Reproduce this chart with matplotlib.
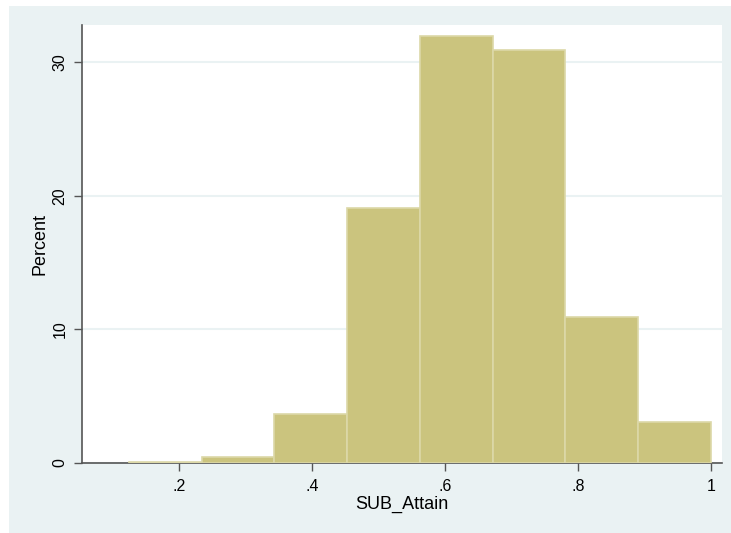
import numpy as np
import matplotlib.pyplot as plt
from matplotlib.patches import Rectangle

plt.rcParams['font.family'] = ['Liberation Sans', 'DejaVu Sans']

# histogram of SUB_Attain: 8 bins, percent per bin
bin_start = 0.1245
bin_width = 0.10944
percent = [0.1, 0.45, 3.7, 19.1, 32.0, 30.9, 10.9, 3.1]

x_ticks = [0.2, 0.4, 0.6, 0.8, 1.0]
x_tick_labels = ['.2', '.4', '.6', '.8', '1']
y_ticks = [0, 10, 20, 30]

bg = '#eaf2f3'
bar_fill = '#cbc47e'
bar_edge = '#dcd8a8'
axis_col = '#555555'

W, H = 731, 533
fig = plt.figure(figsize=(W / 100, H / 100), dpi=100)
fig.patch.set_facecolor('white')
# Stata-like outer graph region, inset slightly from the top/left
fig.add_artist(Rectangle((9 / W, 0), 1 - 9 / W, 1 - 6 / H,
                         transform=fig.transFigure, facecolor=bg,
                         edgecolor='none', zorder=-5))

ax = fig.add_axes([82 / W, (H - 463) / H, (722 - 82) / W, (463 - 25) / H])
ax.set_facecolor('white')

edges = bin_start + bin_width * np.arange(len(percent))
ax.bar(edges, percent, width=bin_width, align='edge', color=bar_fill,
       edgecolor=bar_edge, linewidth=1.2, zorder=3)

ax.set_xlim(0.0537, 1.017)
ax.set_ylim(0, 32.8)
ax.set_xticks(x_ticks)
ax.set_xticklabels(x_tick_labels)
ax.set_yticks(y_ticks)
ax.set_yticklabels([str(v) for v in y_ticks], rotation=90, va='center')

ax.yaxis.grid(True, color=bg, linewidth=1.5, zorder=1)
ax.xaxis.grid(False)

for side in ['top', 'right']:
    ax.spines[side].set_visible(False)
for side in ['left', 'bottom']:
    ax.spines[side].set_color(axis_col)
    ax.spines[side].set_linewidth(1.2)

ax.tick_params(axis='both', direction='out', length=5.5, width=1.0,
               color=axis_col, labelsize=11.5, labelcolor='black')
ax.tick_params(axis='x', pad=6)
ax.tick_params(axis='y', pad=5)

ax.set_xlabel('SUB_Attain', fontsize=13, labelpad=1)
ax.set_ylabel('Percent', fontsize=13, labelpad=3)

fig.savefig('out.png', dpi=100)
